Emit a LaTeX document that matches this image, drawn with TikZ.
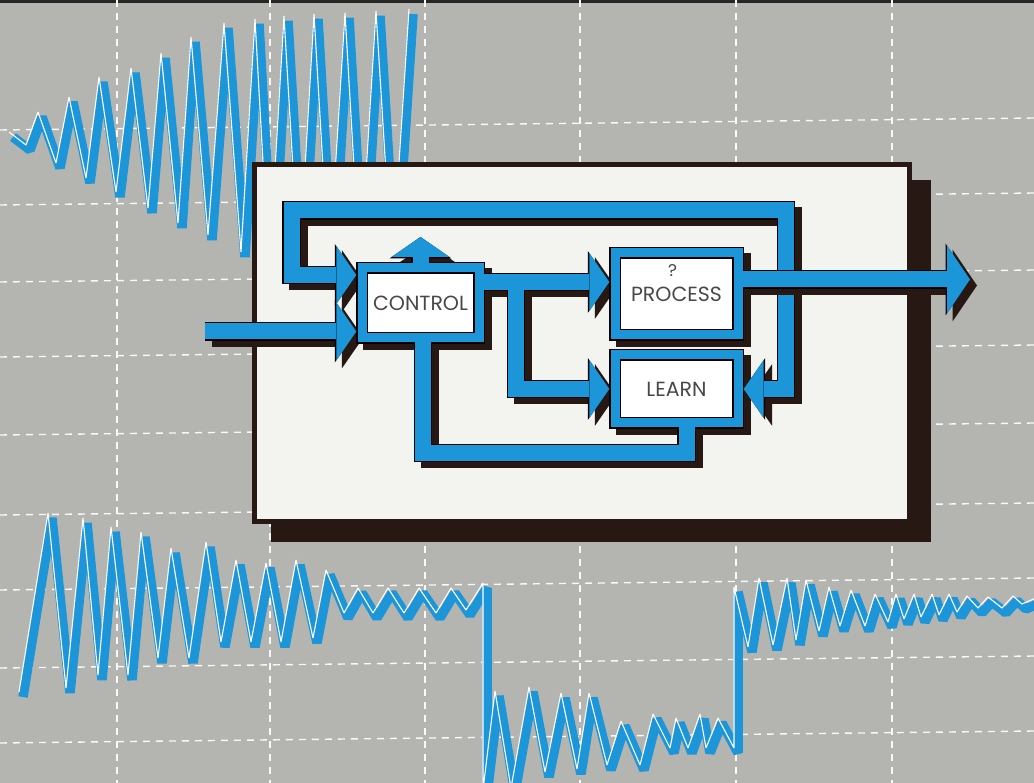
\documentclass[tikz,border=0pt]{standalone}
\usepackage{fontspec}
\setmainfont{Poppins}
\usetikzlibrary{arrows.meta,positioning}
\definecolor{scopegrey}{RGB}{180,180,177}
\definecolor{pipeblue}{RGB}{28,150,216}
\definecolor{shadebrown}{RGB}{40,24,20}
\definecolor{paperwhite}{RGB}{243,243,240}
\definecolor{labelgrey}{RGB}{72,72,74}
\pgfdeclarelayer{back}
\pgfdeclarelayer{shade}
\pgfdeclarelayer{edge}
\pgfsetlayers{back,shade,edge,main}
% one pipe: drop shadow, black rim, blue core
\newcommand{\pipeline}[2]{%
  \begin{pgfonlayer}{shade}
    \begin{scope}[transform canvas={shift={(7,6)}}]
      \draw[pipeshade,#1] #2;
    \end{scope}
  \end{pgfonlayer}
  \begin{pgfonlayer}{edge}
    \draw[pipeedge,#1] #2;
  \end{pgfonlayer}
  \draw[pipe,#1] #2;}

\begin{document}
\begin{tikzpicture}[x=1pt, y=-1pt,
    gridline/.style={white!92!scopegrey, line width=1.4pt, dash pattern=on 7pt off 6pt},
    wave/.style={pipeblue, line width=9.5pt, line join=bevel},
    glint/.style={white, line width=1.1pt, line join=bevel},
    pipe/.style={pipeblue, line width=16pt, line join=miter,
        hd/.tip={Triangle[length=20pt,width=58pt,line width=0pt]},
        bighd/.tip={Triangle[length=23pt,width=68pt,line width=0pt]}},
    pipeedge/.style={black, line width=18.6pt, line join=miter,
        hd/.tip={Triangle[length=21.5pt,width=62pt,line width=0pt]},
        bighd/.tip={Triangle[length=24.5pt,width=72pt,line width=0pt]}},
    pipeshade/.style={pipeedge, shadebrown},
    block/.style={rectangle, draw=black, line width=1.2pt, double=pipeblue,
        double distance=9pt, fill=white, outer sep=0pt, inner sep=0pt,
        text=labelgrey, font=\fontsize{20.5}{22}\selectfont},
    qmark/.style={inner sep=0pt, text=labelgrey, font=\fontsize{17}{17}\selectfont},
    panel/.style={rectangle, draw=shadebrown, line width=5pt, fill=paperwhite,
        outer sep=0pt, minimum width=655pt, minimum height=357pt}
]
\useasboundingbox (0,0) rectangle (1034,783);

\begin{pgfonlayer}{back}
  \fill[scopegrey] (0,0) rectangle (1034,783);
  \fill[black!85] (0,0) rectangle (1034,3);
  % graticule
  \foreach \gx in {117,270,425,580,736,892}
    \draw[gridline] (\gx,0) -- (\gx,783);
  \foreach \gy in {130,205,282,357,435,515,590,668,743}
    \draw[gridline] (0,\gy) -- (1034,\gy-12);
  % upper trace
  \draw[wave] (13,137) -- (30,150) -- (42,117) -- (60,168) -- (73,102) -- (90,183)
    -- (103,82) -- (120,197) -- (135,73) -- (152,213) -- (165,58) -- (182,228)
    -- (195,42) -- (212,240) -- (228,28) -- (245,257) -- (259,24) -- (273,275)
    -- (288,21) -- (303,275) -- (318,19) -- (333,275) -- (349,18) -- (364,275)
    -- (380,16) -- (396,275) -- (413,14);
  \draw[glint, shift={(-4,-5)}] (13,137) -- (30,150) -- (42,117) -- (60,168) -- (73,102) -- (90,183)
    -- (103,82) -- (120,197) -- (135,73) -- (152,213) -- (165,58) -- (182,228)
    -- (195,42) -- (212,240) -- (228,28) -- (245,257) -- (259,24) -- (273,275)
    -- (288,21) -- (303,275) -- (318,19) -- (333,275) -- (349,18) -- (364,275)
    -- (380,16) -- (396,275) -- (413,14);
  % lower trace
  \draw[wave] (23,697) -- (52,518) -- (70,693) -- (87,523) -- (102,680) -- (115,532)
    -- (132,680) -- (145,537) -- (162,663) -- (175,553) -- (193,663) -- (210,547)
    -- (225,647) -- (240,565) -- (255,647) -- (270,568) -- (285,647) -- (300,565)
    -- (317,643) -- (330,575) -- (348,618) -- (362,593) -- (377,618) -- (392,593)
    -- (408,618) -- (423,593) -- (440,618) -- (455,593) -- (470,615) -- (487,588)
    -- (487,795) -- (499,696) -- (515,793) -- (533,692) -- (549,777) -- (565,698)
    -- (581,774) -- (593,698) -- (611,770) -- (625,726) -- (644,770) -- (657,719)
    -- (674,753) -- (680,723) -- (692,753) -- (704,719) -- (710,753) -- (722,723)
    -- (738,753) -- (738,592) -- (752,652) -- (763,583) -- (777,650) -- (791,583)
    -- (800,645) -- (810,585) -- (823,636) -- (833,592) -- (844,631) -- (855,595)
    -- (869,631) -- (879,599) -- (892,627) -- (900,599) -- (908,624) -- (918,599)
    -- (925,622) -- (936,599) -- (943,620) -- (953,599) -- (961,617) -- (971,601)
    -- (982,613) -- (992,602) -- (1006,613) -- (1017,601) -- (1026,609) -- (1040,603);
  \draw[glint, shift={(-4,-5)}] (23,697) -- (52,518) -- (70,693) -- (87,523) -- (102,680) -- (115,532)
    -- (132,680) -- (145,537) -- (162,663) -- (175,553) -- (193,663) -- (210,547)
    -- (225,647) -- (240,565) -- (255,647) -- (270,568) -- (285,647) -- (300,565)
    -- (317,643) -- (330,575) -- (348,618) -- (362,593) -- (377,618) -- (392,593)
    -- (408,618) -- (423,593) -- (440,618) -- (455,593) -- (470,615) -- (487,588)
    -- (487,795) -- (499,696) -- (515,793) -- (533,692) -- (549,777) -- (565,698)
    -- (581,774) -- (593,698) -- (611,770) -- (625,726) -- (644,770) -- (657,719)
    -- (674,753) -- (680,723) -- (692,753) -- (704,719) -- (710,753) -- (722,723)
    -- (738,753) -- (738,592) -- (752,652) -- (763,583) -- (777,650) -- (791,583)
    -- (800,645) -- (810,585) -- (823,636) -- (833,592) -- (844,631) -- (855,595)
    -- (869,631) -- (879,599) -- (892,627) -- (900,599) -- (908,624) -- (918,599)
    -- (925,622) -- (936,599) -- (943,620) -- (953,599) -- (961,617) -- (971,601)
    -- (982,613) -- (992,602) -- (1006,613) -- (1017,601) -- (1026,609) -- (1040,603);
  % panel with its shadow
  \fill[shadebrown] (271,180) rectangle (931,542);
  \node[panel] (panel) at (582,343) {};
\end{pgfonlayer}

% blocks
\node[block, minimum width=117pt, minimum height=70pt] (ctl) at (420.5,303) {CONTROL};
\node[block, minimum width=123pt, minimum height=82pt, right=136pt of ctl, yshift=9pt] (prc) {PROCESS};
\node[block, minimum width=123pt, minimum height=68pt, below=20pt of prc] (lrn) {LEARN};
\node[qmark] (ask) at ([shift={(-4,-23)}]prc.center) {?};

\begin{pgfonlayer}{shade}
  \begin{scope}[transform canvas={shift={(7,6)}}]
    \foreach \b in {ctl,prc,lrn}
      \fill[shadebrown] ([shift={(-5.7,-5.7)}]\b.north west) rectangle ([shift={(5.7,5.7)}]\b.south east);
  \end{scope}
\end{pgfonlayer}

\coordinate (src) at (205,331.5);
\coordinate (fbNW) at (291.5,210.5);
\coordinate (fbNE) at (786,210.5);
\coordinate (fork) at ([xshift=37pt,yshift=21pt]ctl.east);
\coordinate (loopS) at (423,453);
\coordinate (upTip) at ([yshift=31pt]ctl.north);
\coordinate (outTip) at (970,279.5);

% pipes
\pipeline{hd-hd}{([xshift=-5.7pt,yshift=28pt]ctl.west) -| (fbNW) -- (fbNE) |- ([xshift=5.7pt]lrn.east)}
\pipeline{-hd}{(src) -- ([xshift=-5.7pt,yshift=-28.5pt]ctl.west)}
\pipeline{-hd}{([yshift=21pt]ctl.east) -- ([xshift=-5.7pt,yshift=12pt]prc.west)}
\pipeline{-hd}{(fork) |- ([xshift=-5.7pt]lrn.west)}
\pipeline{}{([xshift=10pt]lrn.south) |- (loopS) -- ([xshift=2.5pt]ctl.south)}
\pipeline{-hd}{(ctl.north) -- (upTip)}

% output runs over the feedback pipe
\begin{scope}[transform canvas={shift={(7,6)}}]
  \draw[pipeshade,-bighd] ([xshift=5.7pt,yshift=14.5pt]prc.east) -- (outTip);
\end{scope}
\draw[pipeedge,-bighd] ([xshift=5.7pt,yshift=14.5pt]prc.east) -- (outTip);
\draw[pipe,-bighd] ([yshift=14.5pt]prc.east) -- (outTip);
\end{tikzpicture}
\end{document}
